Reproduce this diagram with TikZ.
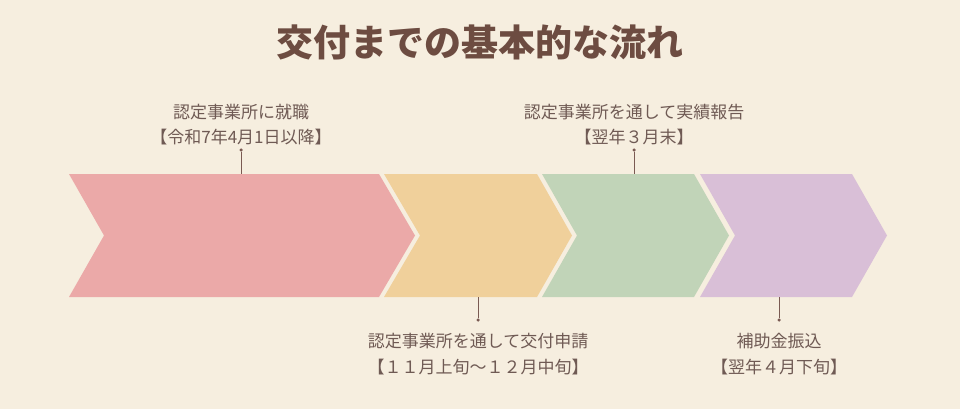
\documentclass[tikz,border=0pt]{standalone}
\usepackage{fontspec}
\setmainfont{Noto Sans CJK JP}
\definecolor{bgcream}{HTML}{F6EEDF}
\definecolor{chpink}{HTML}{EBA9A8}
\definecolor{chorange}{HTML}{F0D09B}
\definecolor{chgreen}{HTML}{C1D4B8}
\definecolor{chpurple}{HTML}{D9BFD7}
\definecolor{lbltext}{HTML}{6F5A54}
\definecolor{ttltext}{HTML}{6D4C41}
\definecolor{pinline}{HTML}{7A5A52}
\begin{document}
\begin{tikzpicture}[x=1pt, y=-1pt,
  lbl/.style={text=lbltext, align=center, inner sep=0pt, font=\fontsize{17}{25.5}\selectfont},
  pin/.style={draw=pinline, line width=1pt},
  pindot/.style={circle, fill=pinline, inner sep=0pt, minimum size=3.5pt}]
\fill[bgcream] (0,0) rectangle (960,409);
\useasboundingbox (0,0) rectangle (960,409);
% title
\node[text=ttltext, inner sep=0pt, font=\fontsize{37}{40}\selectfont\bfseries] (title) at (480,42){交付までの基本的な流れ};
% chevrons
\fill[chpink] (69,174) -- (379,174) -- (415,235.5) -- (379,297) -- (69,297) -- (104,235.5) -- cycle;
\fill[chorange] (384,174) -- (537,174) -- (572,235.5) -- (537,297) -- (384,297) -- (420,235.5) -- cycle;
\fill[chgreen] (542,174) -- (694,174) -- (729,235.5) -- (694,297) -- (542,297) -- (577,235.5) -- cycle;
\fill[chpurple] (700,174) -- (852,174) -- (887,235.5) -- (852,297) -- (700,297) -- (735,235.5) -- cycle;
% step 1
\node[lbl] (lab1) at (241,124.5){認定事業所に就職\\【令和7年4月1日以降】};
\node[pindot] (dot1) at (241,150){};
\coordinate (edge1) at (241,174);
\draw[pin] (dot1) -- (edge1);
% step 2
\node[lbl] (lab2) at (478,354){認定事業所を通して交付申請\\【１１月上旬～１２月中旬】};
\node[pindot] (dot2) at (478,320){};
\coordinate (edge2) at (478,297);
\draw[pin] (dot2) -- (edge2);
% step 3
\node[lbl] (lab3) at (634,124.5){認定事業所を通して実績報告\\【翌年３月末】};
\node[pindot] (dot3) at (634,150){};
\coordinate (edge3) at (634,174);
\draw[pin] (dot3) -- (edge3);
% step 4
\node[lbl] (lab4) at (779,354){補助金振込\\【翌年４月下旬】};
\node[pindot] (dot4) at (779,320){};
\coordinate (edge4) at (779,297);
\draw[pin] (dot4) -- (edge4);
\end{tikzpicture}
\end{document}
